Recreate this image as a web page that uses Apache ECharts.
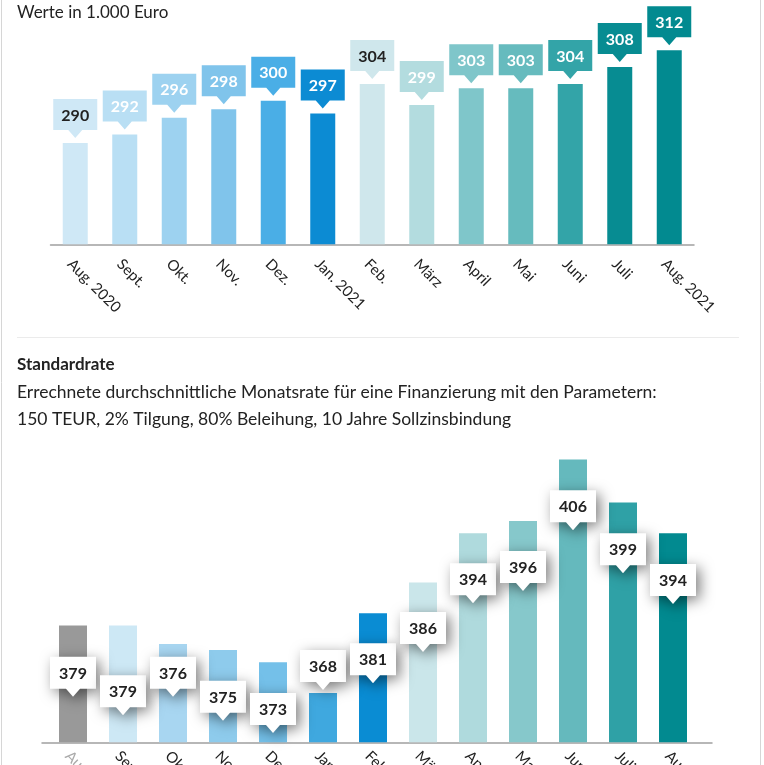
<!DOCTYPE html>
<html>
<head>
<meta charset="utf-8">
<script src="https://cdn.jsdelivr.net/npm/echarts@6/dist/echarts.min.js"></script>
<style>
html,body{margin:0;padding:0;background:#fff;}
#c{width:764px;height:765px;}
</style>
</head>
<body>
<div id="c"></div>
<script>
// ---- data ----
const categories = ['Aug. 2020','Sept.','Okt.','Nov.','Dez.','Jan. 2021','Feb.','März','April','Mai','Juni','Juli','Aug. 2021'];
const priceValues = [290,292,296,298,300,297,304,299,303,303,304,308,312];
const rateValues = [379,379,376,375,373,368,381,386,394,396,406,399,394];
// value at which each rate callout points
const rateLabelAt = [367.4,364.4,367.4,363.5,361.5,368.5,369.6,374.7,382.6,384.6,394.5,387.5,382.5];

// ---- styles ----
const priceColors = ['#cfe8f6','#b9dff4','#9dd2f0','#80c4eb','#4aaee6','#0c8bd3','#cfe7ec','#b3dcdf','#7fc6ca','#66bbbe','#33a4a8','#078c92','#028a90'];
const priceTextColors = ['#222','#fff','#fff','#fff','#fff','#fff','#222','#fff','#fff','#fff','#fff','#fff','#fff'];
const rateColors = ['#999999','#cde8f5','#a8d6f1','#8ecbec','#74c0e9','#3fa8df','#0a8cd3','#cae6ea','#afdadd','#86c8cb','#65b9bd','#2fa1a6','#028a90'];

const FONT = 'Lato, "Source Sans Pro", "Noto Sans", sans-serif';

const chart = echarts.init(document.getElementById('c'), null, {renderer:'canvas'});

function callout(x, tipY, w, h, th, tw, fill, text, textColor, shadow) {
  const bottom = tipY - th;
  const top = bottom - h;
  const shape = {
    type: 'polygon',
    shape: {points: [[x-w/2, top],[x+w/2, top],[x+w/2, bottom],[x+tw, bottom],[x, tipY],[x-tw, bottom],[x-w/2, bottom]]},
    style: Object.assign({fill: fill}, shadow ? {shadowBlur: 14, shadowColor: 'rgba(0,0,0,0.5)', shadowOffsetX: 4, shadowOffsetY: 4} : {})
  };
  const t = {
    type: 'text',
    style: {text: text, x: x, y: top + h/2 + 1, textAlign: 'center', textVerticalAlign: 'middle',
      fill: textColor, font: 'bold 16px ' + FONT}
  };
  return {type: 'group', children: [shape, t]};
}

const option = {
  animation: false,
  graphic: [
    {type:'line', shape:{x1:1.5,y1:0,x2:1.5,y2:765}, style:{stroke:'#d6d6d6', lineWidth:1}},
    {type:'line', shape:{x1:760.5,y1:0,x2:760.5,y2:765}, style:{stroke:'#d6d6d6', lineWidth:1}},
    {type:'line', shape:{x1:17,y1:337.5,x2:739,y2:337.5}, style:{stroke:'#ebebeb', lineWidth:1}},
    {type:'text', left:17, top:4, style:{text:'Werte in 1.000 Euro', font:'17px ' + FONT, fill:'#222'}},
    {type:'text', left:17, top:356, style:{text:'Standardrate', font:'bold 17px ' + FONT, fill:'#222'}},
    {type:'text', left:17, top:383, style:{text:'Errechnete durchschnittliche Monatsrate für eine Finanzierung mit den Parametern:', font:'17.5px ' + FONT, fill:'#222'}},
    {type:'text', left:17, top:410, style:{text:'150 TEUR, 2% Tilgung, 80% Beleihung, 10 Jahre Sollzinsbindung', font:'17.5px ' + FONT, fill:'#222'}}
  ],
  grid: [
    {left: 50.5, width: 643.5, top: 16.4, height: 227.9, outerBoundsMode:'none', containLabel:false},
    {left: 48, width: 650, top: 434.8, height: 307.5, outerBoundsMode:'none', containLabel:false},
    {left: 42, width: 670, top: 434.8, height: 307.5, outerBoundsMode:'none', containLabel:false}
  ],
  xAxis: [
    {type:'category', gridIndex:0, data: categories,
      axisLine:{lineStyle:{color:'#a0a0a0', width:1.5}}, axisTick:{show:false},
      axisLabel:{rotate:-45, margin:12, fontSize:15, fontFamily:FONT, color:'#222', verticalAlign:'top'}},
    {type:'category', gridIndex:1, data: categories,
      axisLine:{show:false}, axisTick:{show:false},
      axisLabel:{rotate:-45, margin:6, fontSize:15, fontFamily:FONT, verticalAlign:'top',
        color: function(v, i){ return i === 0 ? '#aaa' : '#222'; }}},
    {type:'value', gridIndex:2, min:0, max:1, axisLine:{show:true, onZero:false, lineStyle:{color:'#a0a0a0', width:1.5}},
      axisTick:{show:false}, axisLabel:{show:false}, splitLine:{show:false}}
  ],
  yAxis: [
    {type:'value', gridIndex:0, min:266, max:320, show:false},
    {type:'value', gridIndex:1, min:360, max:410, show:false},
    {type:'value', gridIndex:2, min:0, max:1, show:false}
  ],
  series: [
    {type:'bar', xAxisIndex:0, yAxisIndex:0, barWidth:25,
      data: priceValues.map((v,i)=>({value:v, itemStyle:{color:priceColors[i]}}))},
    {type:'custom', xAxisIndex:0, yAxisIndex:0, z:5,
      data: priceValues.map((v,i)=>[i, v]),
      renderItem: function(params, api){
        const i = api.value(0);
        const p = api.coord([i, api.value(1)]);
        return callout(p[0], p[1]-5, 44, 31, 8, 7, priceColors[i], String(priceValues[i]), priceTextColors[i], false);
      }},
    {type:'bar', xAxisIndex:1, yAxisIndex:1, barWidth:28,
      data: rateValues.map((v,i)=>({value:v, itemStyle:{color:rateColors[i]}}))},
    {type:'custom', xAxisIndex:1, yAxisIndex:1, z:5,
      data: rateLabelAt.map((v,i)=>[i, v]),
      renderItem: function(params, api){
        const i = api.value(0);
        const p = api.coord([i, api.value(1)]);
        return callout(p[0], p[1], 46, 32, 8, 7, '#fff', String(rateValues[i]), '#222', true);
      }}
  ]
};
chart.setOption(option);
</script>
</body>
</html>
